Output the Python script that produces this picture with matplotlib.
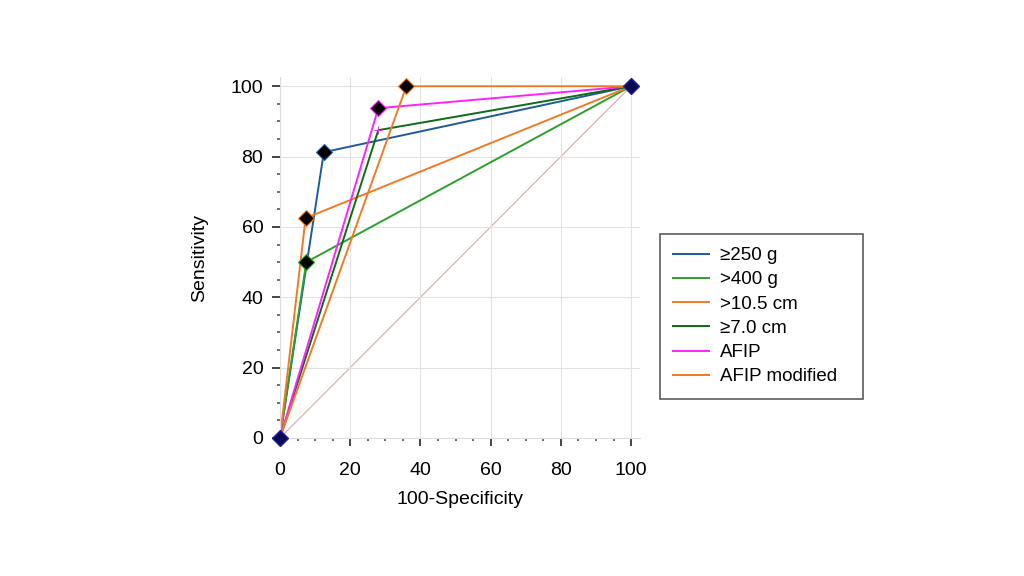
import matplotlib
matplotlib.use("Agg")
import matplotlib.pyplot as plt
from matplotlib.ticker import MultipleLocator

plt.rcParams["font.family"] = ["Liberation Sans", "DejaVu Sans"]

# ROC points (100-specificity, sensitivity)
labels = ["≥250 g", ">400 g", ">10.5 cm", "≥7.0 cm", "AFIP", "AFIP modified"]
fpr_250g = [0, 12.5, 100]
tpr_250g = [0, 81.25, 100]
fpr_400g = [0, 7.5, 100]
tpr_400g = [0, 50, 100]
fpr_105cm = [0, 7.3, 100]
tpr_105cm = [0, 62.5, 100]
fpr_70cm = [0, 28, 100]
tpr_70cm = [0, 87.5, 100]
fpr_afip = [0, 28, 100]
tpr_afip = [0, 93.75, 100]
fpr_afipmod = [0, 36, 100]
tpr_afipmod = [0, 100, 100]

colors = ["#1f5a9c", "#2ca02c", "#f07a26", "#0b6e14", "#ff22ff", "#f07a26"]
show_marker = [True, True, True, False, True, True]

series = [
    (fpr_250g, tpr_250g),
    (fpr_400g, tpr_400g),
    (fpr_105cm, tpr_105cm),
    (fpr_70cm, tpr_70cm),
    (fpr_afip, tpr_afip),
    (fpr_afipmod, tpr_afipmod),
]

fig = plt.figure(figsize=(10.24, 5.76), dpi=100)
ax = fig.add_axes([0.2734, 0.2396, 0.3515, 0.626])

# reference diagonal
ax.plot([0, 100], [0, 100], color="#d9aaaa", lw=0.8, zorder=1)

lines = []
for (x, y), lab, c, mk in zip(series, labels, colors, show_marker):
    (ln,) = ax.plot(x, y, color=c, lw=1.4, label=lab, zorder=2)
    lines.append(ln)
    if mk:
        ax.plot(x[1], y[1], marker="D", ms=8, mfc="black", mec=c, mew=0.8,
                ls="none", zorder=4)
    else:
        ax.plot(x[1], y[1], marker="+", ms=6, color="#cc44cc", mew=0.8,
                ls="none", zorder=4)

# common endpoints
ax.plot([0, 100], [0, 100], marker="D", ms=8, mfc="#0a0a50", mec="#2020a0",
        ls="none", zorder=5, clip_on=False)

ax.set_xlim(0, 102.5)
ax.set_ylim(0, 102.5)
ax.xaxis.set_major_locator(MultipleLocator(20))
ax.yaxis.set_major_locator(MultipleLocator(20))
ax.xaxis.set_minor_locator(MultipleLocator(5))
ax.yaxis.set_minor_locator(MultipleLocator(5))
ax.grid(True, which="major", color="#e2e2e2", lw=0.8, zorder=0)
ax.tick_params(which="major", direction="out", length=6, width=1.4,
               color="#444444", labelsize=14, pad=6)
ax.tick_params(axis="x", which="major", pad=11)
ax.tick_params(which="minor", direction="out", length=2.5, width=1.2,
               color="#555555")

for s in ["top", "right"]:
    ax.spines[s].set_visible(False)
for s in ["left", "bottom"]:
    ax.spines[s].set_color("#dddddd")

ax.set_xlabel("100-Specificity", fontsize=14, labelpad=9)
ax.set_ylabel("Sensitivity", fontsize=14, labelpad=16)

leg = fig.legend(handles=lines, labels=labels, loc="upper left",
                 bbox_to_anchor=(0.6445, 0.3073, 0.1982, 0.2865), mode="expand",
                 fontsize=13.5, frameon=True,
                 fancybox=False, edgecolor="#333333", handlelength=1.9,
                 handletextpad=0.6, borderpad=0.7, labelspacing=0.38,
                 borderaxespad=0)
leg.get_frame().set_linewidth(1.2)

fig.savefig("out.png", dpi=100)
